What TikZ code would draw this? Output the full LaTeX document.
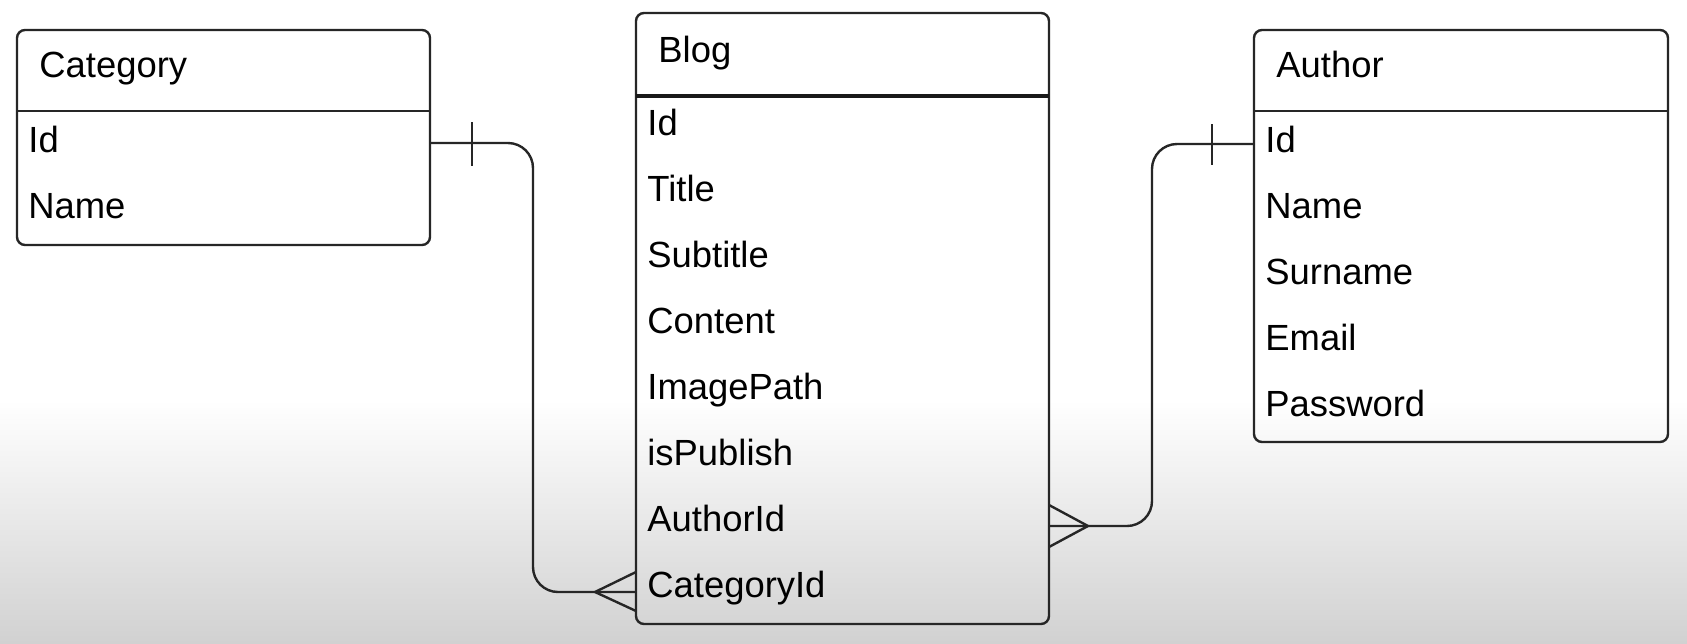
\documentclass[tikz,border=0pt]{standalone}
\usepackage{fontspec}
\setmainfont{Liberation Sans}
\usetikzlibrary{calc}
\begin{document}
\begin{tikzpicture}[x=0.5pt,y=-0.5pt,
  box/.style={draw=black!85, line width=1.2pt, rounded corners=4pt, inner sep=0pt, outer sep=0pt, anchor=north west},
  hdr/.style={draw=black!85, line width=1.2pt},
  hdrthick/.style={draw=black!90, line width=1.7pt},
  field/.style={inner sep=0pt, anchor=base west, font=\fontsize{18.2}{22}\selectfont, text=black},
  conn/.style={draw=black!85, line width=1.2pt, rounded corners=12.5pt},
  tickline/.style={draw=black!85, line width=1.2pt}]
\useasboundingbox (0,0) rectangle (1687,643);
\fill[white] (0,0) rectangle (1687,400);
\shade[top color=white, bottom color=black!18] (0,400) rectangle (1687,643);

% Category
\node[box, minimum width=206.5pt, minimum height=107.5pt] (cat) at (17,30) {};
\draw[hdr] (cat.north west) ++(0,81) -- ++(413,0);
\node[field] (cattitle) at (39,77) {Category};
\node[field] (catid) at (28,152) {Id};
\node[field] (catname) at (28,218) {Name};

% Blog
\node[box, minimum width=206.5pt, minimum height=305.5pt] (blog) at (636,13) {};
\draw[hdrthick] (blog.north west) ++(0,83) -- ++(413,0);
\node[field] (blogtitle) at (658,62) {Blog};
\node[field] (b1) at (647,135) {Id};
\node[field] (b2) at (647,201) {Title};
\node[field] (b3) at (647,267) {Subtitle};
\node[field] (b4) at (647,333) {Content};
\node[field] (b5) at (647,399) {ImagePath};
\node[field] (b6) at (647,465) {isPublish};
\node[field] (b7) at (647,531) {AuthorId};
\node[field] (b8) at (647,597) {CategoryId};

% Author
\node[box, minimum width=207pt, minimum height=206pt] (auth) at (1254,30) {};
\draw[hdr] (auth.north west) ++(0,81) -- ++(414,0);
\node[field] (authtitle) at (1276,77) {Author};
\node[field] (a1) at (1265,152) {Id};
\node[field] (a2) at (1265,218) {Name};
\node[field] (a3) at (1265,284) {Surname};
\node[field] (a4) at (1265,350) {Email};
\node[field] (a5) at (1265,416) {Password};

% connector Category - Blog
\coordinate (catR) at (cat.east |- 0,143);
\coordinate (blogL) at (blog.west |- 0,592);
\coordinate (m1) at (533,0);
\draw[conn] (catR) -| (m1 |- blogL) -- (blogL);
\draw[tickline] ($(catR)+(42,-21)$) -- ($(catR)+(42,23)$);
\coordinate (ap1) at ($(blogL)+(-41,0)$);
\draw[tickline] ($(blogL)+(0,-20)$) -- (ap1) -- ($(blogL)+(0,19)$);

% connector Author - Blog
\coordinate (authL) at (auth.west |- 0,144);
\coordinate (blogR) at (blog.east |- 0,526);
\coordinate (m2) at (1152,0);
\draw[conn] (authL) -| (m2 |- blogR) -- (blogR);
\draw[tickline] ($(authL)+(-42,-20)$) -- ($(authL)+(-42,21)$);
\coordinate (ap2) at ($(blogR)+(39,0)$);
\draw[tickline] ($(blogR)+(0,-21)$) -- (ap2) -- ($(blogR)+(0,21)$);
\end{tikzpicture}
\end{document}
